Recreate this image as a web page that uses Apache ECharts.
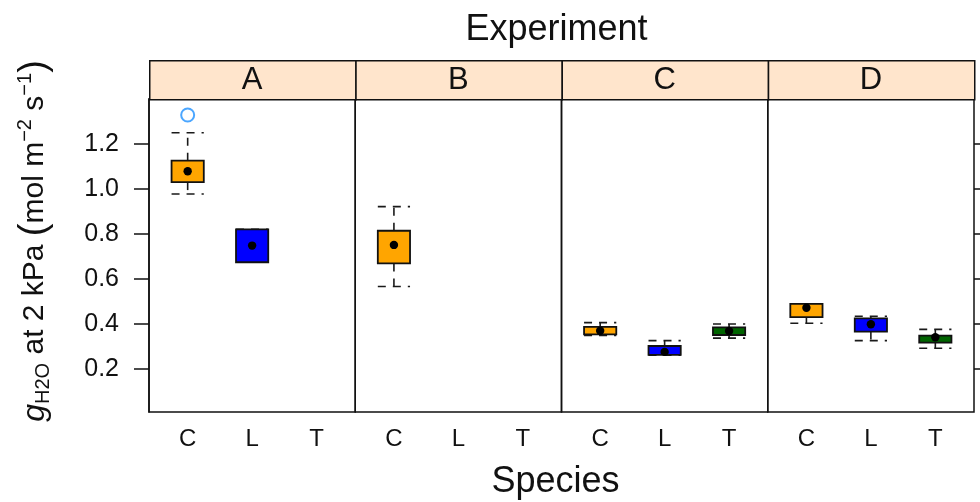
<!DOCTYPE html>
<html>
<head>
<meta charset="utf-8">
<title>Stomatal conductance by experiment and species</title>
<script src="https://cdn.jsdelivr.net/npm/echarts@6/dist/echarts.min.js"></script>
<style>
  html, body { margin: 0; padding: 0; background: #fff; }
  #chart { width: 980px; height: 502px; }
</style>
</head>
<body>
<div id="chart"></div>
<script>
// Panels (experiments) and the species shown in each one
const experiments = ['A', 'B', 'C', 'D'];
const species = ['C', 'L', 'T'];
const yTicks = [0.2, 0.4, 0.6, 0.8, 1.0, 1.2];

// Five-number summaries per species: [lower whisker, Q1, median, Q3, upper whisker]
const statsA = [[0.978, 1.031, 1.079, 1.126, 1.250], [0.675, 0.675, 0.749, 0.821, 0.821], null];
const statsB = [[0.567, 0.670, 0.752, 0.815, 0.922], null, null];
const statsC = [[0.350, 0.355, 0.371, 0.388, 0.407], [0.262, 0.264, 0.277, 0.303, 0.327], [0.338, 0.352, 0.370, 0.386, 0.401]];
const statsD = [[0.404, 0.431, 0.473, 0.490, 0.490], [0.327, 0.367, 0.400, 0.426, 0.435], [0.293, 0.318, 0.342, 0.349, 0.377]];
const panelStats = [statsA, statsB, statsC, statsD];

// Outlying observations
const outlierExperiment = ['A'];
const outlierSpecies = ['C'];
const outlierValue = [1.329];

const speciesColors = ['#FFA500', '#0000FF', '#006400'];
const FONT = 'Liberation Sans, Arial, Helvetica, sans-serif';

// Panel layout
const PANEL_LEFT = 149;
const PANEL_W = 206.25;
const PANEL_TOP = 99;
const PANEL_H = 313;
const STRIP_H = 39;
const Y_MIN = 0.01, Y_MAX = 1.40;

const grids = [], xAxes = [], yAxes = [], series = [], graphics = [];

function renderBox(params, api) {
  const x = api.value(0);
  const lo = api.value(1), q1 = api.value(2), md = api.value(3), q3 = api.value(4), hi = api.value(5);
  const half = 0.25;
  const fill = speciesColors[Math.round(x) - 1];
  const c = (xx, yy) => api.coord([xx, yy]);
  const dash = { stroke: '#1a1a1a', lineWidth: 1.6, lineDash: [8, 7] };
  const children = [];
  const mid = c(x, md);
  // whiskers and caps
  if (hi > q3) {
    const a = c(x, q3), b = c(x, hi);
    children.push({ type: 'line', shape: { x1: a[0], y1: a[1], x2: b[0], y2: b[1] }, style: dash });
  }
  if (lo < q1) {
    const a = c(x, q1), b = c(x, lo);
    children.push({ type: 'line', shape: { x1: a[0], y1: a[1], x2: b[0], y2: b[1] }, style: dash });
  }
  [lo, hi].forEach(v => {
    const l = c(x - half, v), r = c(x + half, v);
    children.push({ type: 'line', shape: { x1: l[0], y1: l[1], x2: r[0], y2: r[1] }, style: dash });
  });
  // box
  const tl = c(x - half, q3), br = c(x + half, q1);
  children.push({
    type: 'rect',
    shape: { x: tl[0], y: tl[1], width: br[0] - tl[0], height: br[1] - tl[1] },
    style: { fill: fill, stroke: '#111', lineWidth: 1.8 }
  });
  // median dot
  children.push({ type: 'circle', shape: { cx: mid[0], cy: mid[1], r: 4.2 }, style: { fill: '#000' } });
  return { type: 'group', children: children };
}

experiments.forEach((exp, i) => {
  const left = PANEL_LEFT + i * PANEL_W;
  grids.push({
    left: left, top: PANEL_TOP, width: PANEL_W, height: PANEL_H,
    show: true, borderColor: '#111', borderWidth: 1.5, backgroundColor: 'transparent'
  });
  xAxes.push({
    type: 'value', gridIndex: i, min: 0.4, max: 3.6,
    axisLine: { show: false }, axisTick: { show: false }, splitLine: { show: false },
    axisLabel: {
      customValues: species.map((s, k) => k + 1),
      formatter: v => species[Math.round(v) - 1] || '',
      fontFamily: FONT, fontSize: 24, color: '#111', margin: 15
    }
  });
  const yAx = {
    type: 'value', gridIndex: i, min: Y_MIN, max: Y_MAX,
    splitLine: { show: false }
  };
  if (i === 0) {
    Object.assign(yAx, {
      axisLine: { show: true, lineStyle: { color: '#111', width: 1.5 } },
      axisTick: { show: true, customValues: yTicks, length: 15, lineStyle: { color: '#111', width: 1.5 } },
      axisLabel: {
        customValues: yTicks, formatter: v => v.toFixed(1),
        fontFamily: FONT, fontSize: 25, color: '#111', margin: 30
      }
    });
  } else {
    Object.assign(yAx, { axisLine: { show: false }, axisTick: { show: false }, axisLabel: { show: false } });
  }
  yAxes.push(yAx);

  const data = [];
  panelStats[i].forEach((st, k) => {
    if (st) data.push([k + 1].concat(st));
  });
  series.push({
    type: 'custom', xAxisIndex: i, yAxisIndex: i,
    renderItem: renderBox, data: data, clip: false, silent: true
  });

  // strip header
  graphics.push({
    type: 'rect', left: left, top: PANEL_TOP - STRIP_H,
    shape: { width: PANEL_W, height: STRIP_H },
    style: { fill: '#FFE5CC', stroke: '#111', lineWidth: 1.5 }, z: 10
  });
  graphics.push({
    type: 'text', x: left + PANEL_W / 2, y: PANEL_TOP - STRIP_H / 2 + 1,
    style: { text: exp, font: '31px ' + FONT, fill: '#111', textAlign: 'center', textVerticalAlign: 'middle' }, z: 11
  });
});

// right-hand ticks on the last panel
yAxes.push({
  type: 'value', gridIndex: experiments.length - 1, position: 'right', min: Y_MIN, max: Y_MAX,
  splitLine: { show: false }, axisLine: { show: false },
  axisTick: { show: true, customValues: yTicks, length: 8, lineStyle: { color: '#111', width: 1.5 } },
  axisLabel: { show: false }
});

// outliers
experiments.forEach((exp, i) => {
  const pts = [];
  outlierExperiment.forEach((e, k) => {
    if (e === exp) pts.push([species.indexOf(outlierSpecies[k]) + 1, outlierValue[k]]);
  });
  if (pts.length) {
    series.push({
      type: 'scatter', xAxisIndex: i, yAxisIndex: i, data: pts,
      symbol: 'circle', symbolSize: 13, silent: true,
      itemStyle: { color: '#fff', borderColor: '#1E90FF', borderWidth: 2 }
    });
  }
});

// titles
graphics.push({
  type: 'text', x: PANEL_LEFT + 2 * PANEL_W - 5, y: 30,
  style: { text: 'Experiment', font: '36px ' + FONT, fill: '#111', textAlign: 'center', textVerticalAlign: 'middle' }
});
graphics.push({
  type: 'text', x: PANEL_LEFT + 2 * PANEL_W - 6, y: 482,
  style: { text: 'Species', font: '36px ' + FONT, fill: '#111', textAlign: 'center', textVerticalAlign: 'middle' }
});
graphics.push({
  type: 'text', x: 35, y: 241, rotation: Math.PI / 2,
  style: {
    text: '{g|g}{sub|H2O}{t| at 2 kPa }{p|(}{t|mol m}{sup|−2}{t| s}{sup|−1}{p|)}',
    textAlign: 'center', textVerticalAlign: 'middle', fill: '#111',
    rich: {
      g: { fontFamily: FONT, fontSize: 32, fontStyle: 'italic', lineHeight: 44, verticalAlign: 'middle' },
      t: { fontFamily: FONT, fontSize: 30, lineHeight: 44, verticalAlign: 'middle' },
      p: { fontFamily: FONT, fontSize: 38, lineHeight: 44, verticalAlign: 'middle' },
      sub: { fontFamily: FONT, fontSize: 20, lineHeight: 44, verticalAlign: 'bottom', padding: [0, 0, 4, 0] },
      sup: { fontFamily: FONT, fontSize: 20, lineHeight: 44, verticalAlign: 'top', padding: [2, 0, 0, 0] }
    }
  }
});

const chart = echarts.init(document.getElementById('chart'), null, { renderer: 'canvas' });
chart.setOption({
  animation: false,
  backgroundColor: '#fff',
  grid: grids,
  xAxis: xAxes,
  yAxis: yAxes,
  series: series,
  graphic: graphics
});
</script>
</body>
</html>
